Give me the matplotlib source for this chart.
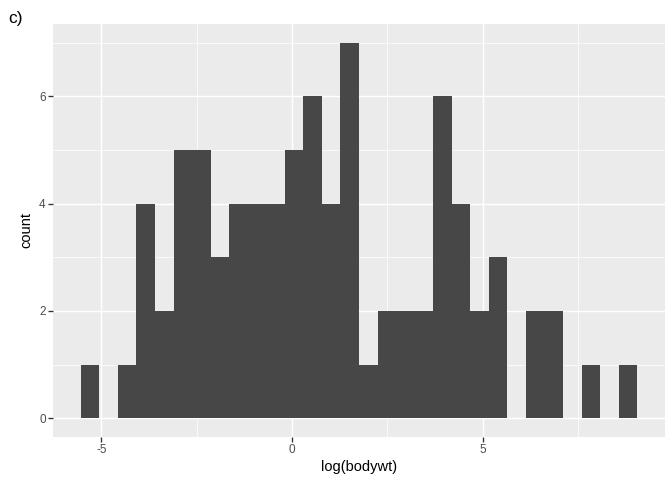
import numpy as np
import matplotlib.pyplot as plt

plt.rcParams["font.family"] = ["Liberation Sans", "DejaVu Sans"]
plt.rcParams["axes.unicode_minus"] = False

# --------------------------------------------
# Histogram data (30 bins of log(bodywt))
# --------------------------------------------

bin_low = -5.541
bin_width = 0.4863

counts = [1, 0, 1, 4, 2, 5, 5, 3, 4, 4,
          4, 5, 6, 4, 7, 1, 2, 2, 2, 6,
          4, 2, 3, 0, 2, 2, 0, 1, 0, 1]

x_ticks = [-5, 0, 5]
y_ticks = [0, 2, 4, 6]

edges = bin_low + bin_width * np.arange(len(counts) + 1)

# --------------------------------------------
# Plot
# --------------------------------------------

fig = plt.figure(figsize=(7, 5), dpi=96)
ax = fig.add_axes([53 / 672, 1 - 437 / 480, 612 / 672, 413 / 480])

ax.set_facecolor("#EBEBEB")
ax.set_axisbelow(True)

ax.bar(edges[:-1], counts, width=bin_width, align="edge",
       color="#474747", linewidth=0)

lo, hi = edges[0], edges[-1]
pad = (hi - lo) * 0.05
ax.set_xlim(lo - pad, hi + pad)
ax.set_ylim(-0.35, 7.35)

ax.set_xticks(x_ticks)
ax.set_yticks(y_ticks)
ax.set_xticks([-2.5, 2.5, 7.5], minor=True)
ax.set_yticks([1, 3, 5, 7], minor=True)

ax.grid(which="major", color="white", linewidth=1.1)
ax.grid(which="minor", color="white", linewidth=0.55)

for s in ax.spines.values():
    s.set_visible(False)

ax.tick_params(which="major", length=3.5, width=1.0, color="#333333",
               labelsize=8.8, labelcolor="#4D4D4D", pad=2)
ax.tick_params(which="minor", length=0)

ax.set_xlabel("log(bodywt)", fontsize=11, labelpad=3)
ax.set_ylabel("count", fontsize=11, labelpad=4)

fig.text(8 / 672, 1 - 18 / 480, "c)", fontsize=13, va="center", ha="left")

plt.savefig("out.png", dpi=96)
plt.close()
